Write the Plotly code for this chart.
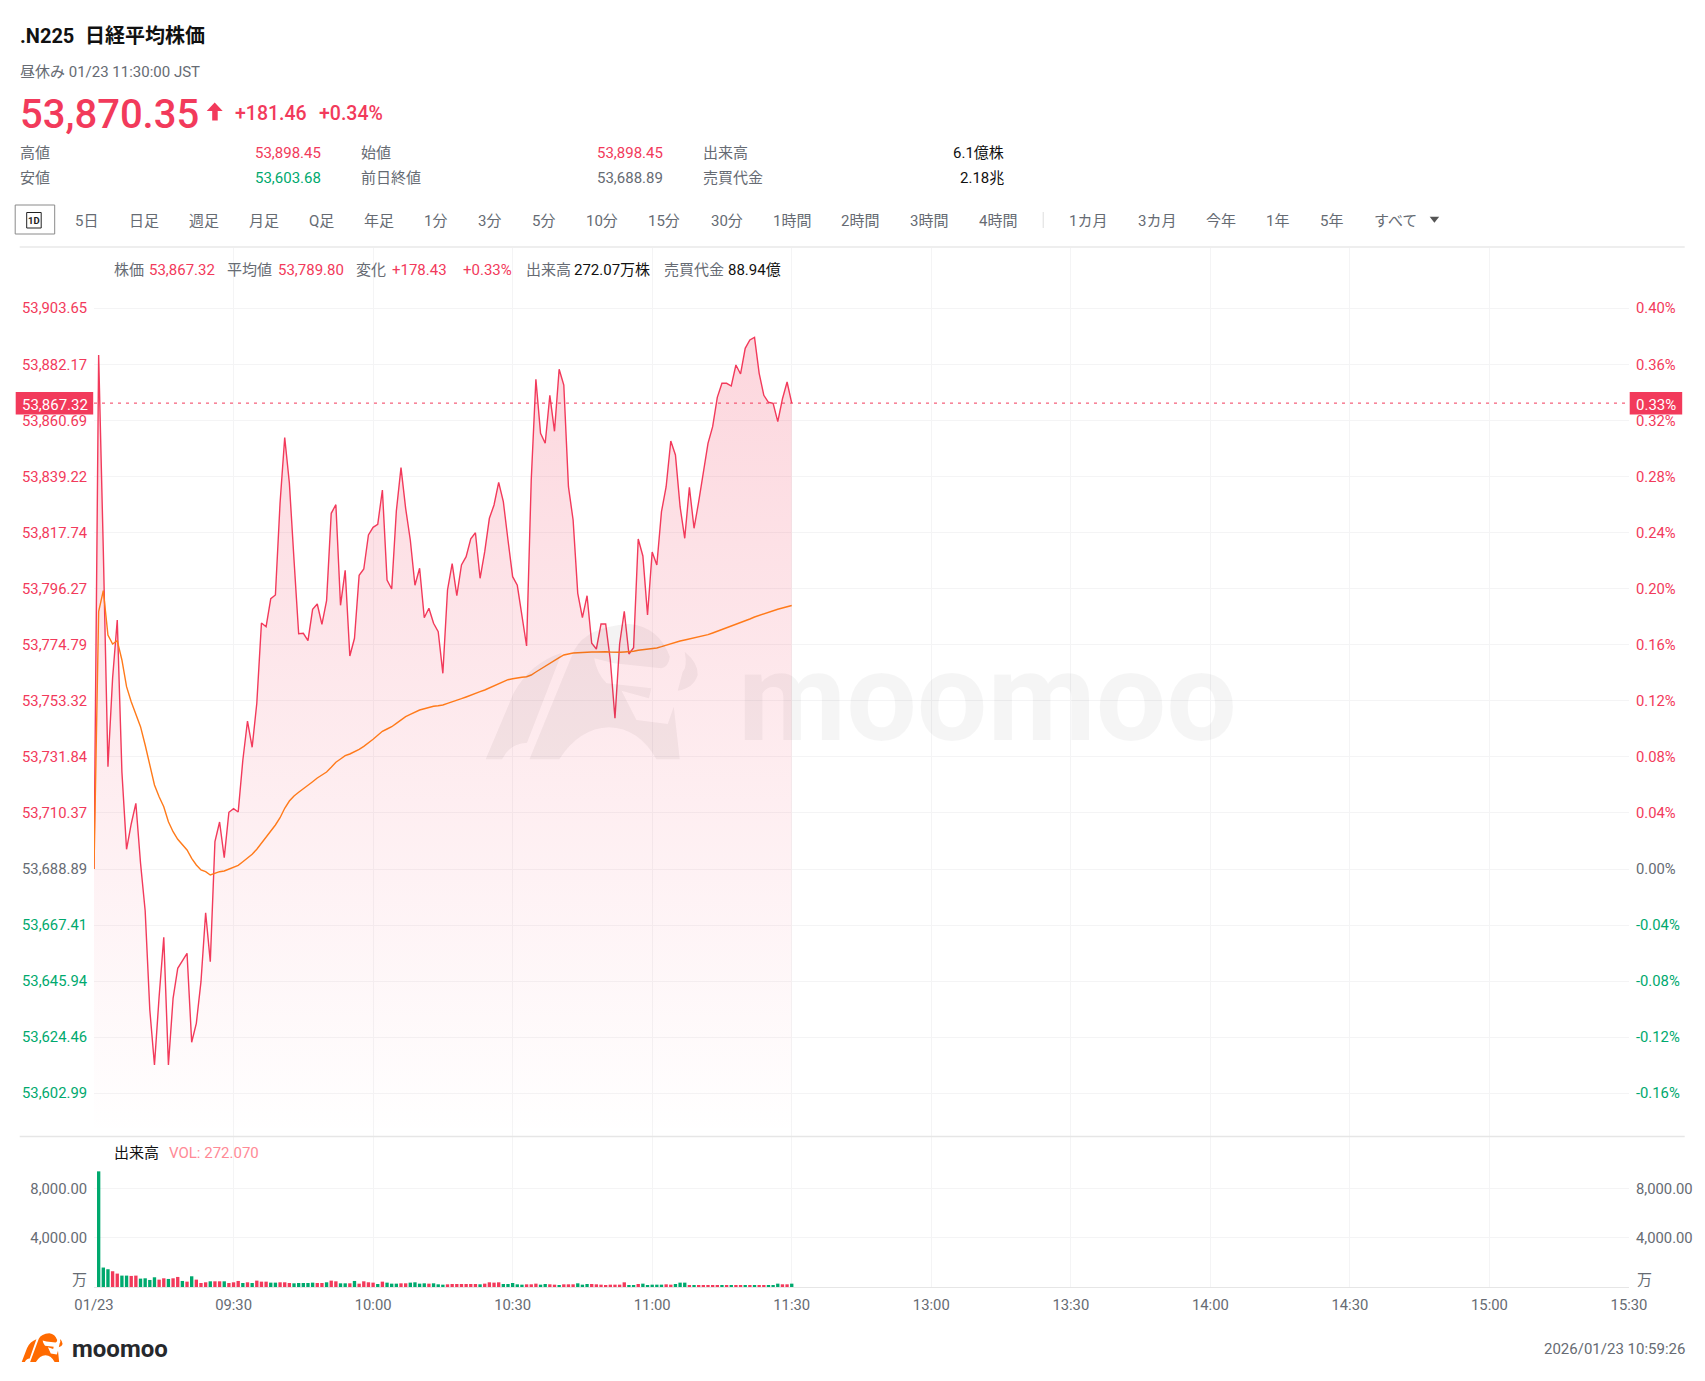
import plotly.graph_objects as go

# offset of the plot div inside the page (default body margin)
PAGE_OFFSET = 8
WIDTH = 1689
HEIGHT = 1365
PLOT_LEFT = 94.3
PLOT_RIGHT = 1629.3
PLOT_TOP = 248
PLOT_BOTTOM = 1287

RED = "#f23a5b"
GREEN = "#00a96e"
ORANGE = "#ff7a1a"
GREY = "#666b73"
FONT = "Roboto, 'Noto Sans CJK JP', sans-serif"

PREV_CLOSE = 53688.89

price_values = [
    53688.89, 53885.75, 53811.07, 53728.07, 53762.04, 53784.26, 53726.04, 53696.44, 53706.13, 53714.05,
    53691.19, 53672.92, 53634.89, 53613.82, 53639.98, 53662.73, 53613.82, 53639.37, 53650.86, 53653.77,
    53656.60, 53622.52, 53629.79, 53645.73, 53672.15, 53653.39, 53699.35, 53706.89, 53693.22, 53710.61,
    53711.98, 53710.72, 53730.64, 53745.57, 53735.50, 53752.35, 53783.11, 53781.69, 53792.41, 53793.83,
    53829.07, 53854.15, 53836.73, 53807.24, 53779.01, 53779.16, 53776.33, 53788.36, 53790.39, 53782.61,
    53791.65, 53825.12, 53828.42, 53789.89, 53803.29, 53770.47, 53777.25, 53801.38, 53803.79, 53816.81,
    53819.76, 53820.91, 53834.05, 53799.58, 53796.13, 53826.00, 53842.59, 53827.04, 53814.89, 53797.55,
    53804.06, 53785.14, 53788.74, 53782.99, 53779.78, 53763.84, 53795.75, 53805.82, 53793.56, 53805.32,
    53808.50, 53815.39, 53817.69, 53800.23, 53810.42, 53823.21, 53828.30, 53836.99, 53829.57, 53814.89,
    53800.84, 53797.55, 53785.52, 53774.30, 53837.88, 53876.45, 53855.76, 53851.93, 53870.32, 53856.53,
    53880.28, 53874.26, 53835.31, 53822.56, 53794.48, 53785.14, 53793.56, 53775.33, 53773.15, 53782.73,
    53782.73, 53768.94, 53746.61, 53775.07, 53787.59, 53771.24, 53773.65, 53815.28, 53808.77, 53786.17,
    53810.30, 53805.32, 53825.74, 53835.31, 53852.81, 53847.45, 53827.65, 53815.55, 53835.08, 53819.38,
    53829.57, 53840.44, 53851.93, 53858.29, 53869.55, 53874.91, 53874.91, 53873.88, 53881.92, 53878.48,
    53888.32, 53891.50, 53892.53, 53878.74, 53870.32, 53867.64, 53867.25, 53860.21, 53868.90, 53875.41,
    53867.32,
]

avg_values = [
    53688.89, 53787.44, 53795.48, 53778.51, 53775.07, 53776.33, 53768.94, 53758.71, 53752.97, 53748.52,
    53743.39, 53736.38, 53728.07, 53721.06, 53716.58, 53712.75, 53707.01, 53703.18, 53700.27, 53698.08,
    53696.17, 53692.99, 53690.42, 53688.51, 53687.86, 53686.59, 53687.24, 53687.86, 53688.12, 53688.89,
    53689.54, 53690.31, 53691.69, 53693.22, 53694.52, 53696.44, 53698.73, 53701.03, 53703.18, 53705.74,
    53708.54, 53712.14, 53714.93, 53716.85, 53718.27, 53719.53, 53720.79, 53722.33, 53723.74, 53724.89,
    53726.04, 53727.84, 53729.76, 53731.02, 53732.28, 53732.94, 53733.70, 53734.74, 53735.88, 53737.15,
    53738.57, 53740.10, 53741.63, 53742.51, 53743.39, 53744.69, 53746.07, 53747.22, 53748.14, 53749.02,
    53749.79, 53750.28, 53750.82, 53751.20, 53751.43, 53751.70, 53752.35, 53752.85, 53753.50, 53754.11,
    53754.77, 53755.53, 53756.30, 53756.80, 53757.45, 53758.21, 53759.09, 53760.01, 53760.78, 53761.39,
    53761.77, 53762.16, 53762.31, 53762.54, 53763.19, 53764.34, 53765.49, 53766.64, 53767.67, 53768.67,
    53769.82, 53770.85, 53771.35, 53771.62, 53771.73, 53771.89, 53772.00, 53772.00, 53772.00, 53772.12,
    53772.12, 53772.00, 53771.89, 53771.89, 53772.00, 53772.00, 53772.27, 53772.65, 53772.88, 53773.04,
    53773.26, 53773.53, 53774.03, 53774.57, 53775.18, 53775.83, 53776.21, 53776.60, 53776.98, 53777.36,
    53777.75, 53778.13, 53778.63, 53779.28, 53779.93, 53780.54, 53781.19, 53781.84, 53782.46, 53783.11,
    53783.87, 53784.64, 53785.41, 53786.06, 53786.67, 53787.21, 53787.82, 53788.36, 53788.85, 53789.35,
    53789.80,
]

# volume in 万株, one bar per minute starting at 09:01
vol_values = [
    9384, 1578, 1442, 1278, 1088, 925, 925, 898, 925, 680,
    707, 571, 789, 598, 707, 653, 707, 816, 490, 435,
    870, 598, 326, 381, 462, 462, 462, 462, 326, 381,
    490, 326, 381, 326, 517, 435, 435, 354, 354, 381,
    381, 326, 299, 326, 326, 326, 354, 326, 326, 381,
    517, 462, 299, 299, 299, 490, 272, 462, 381, 354,
    245, 435, 354, 272, 272, 299, 299, 354, 381, 272,
    299, 272, 299, 218, 190, 218, 245, 245, 245, 245,
    245, 245, 218, 272, 380, 354, 380, 245, 245, 326,
    218, 190, 218, 218, 272, 190, 245, 218, 190, 135,
    218, 218, 218, 299, 190, 245, 245, 218, 190, 135,
    190, 190, 190, 380, 108, 135, 245, 272, 163, 190,
    190, 190, 218, 190, 245, 354, 354, 135, 135, 135,
    135, 163, 163, 163, 135, 108, 135, 135, 135, 135,
    108, 135, 135, 135, 108, 135, 272, 218, 218, 272,
]
vol_sides = list(
    "GGGRRGGRRG" "GGGRRGRRGR" "GRRRGRRGRR" "RGRGRRRGGR" "RRGGGGGRRG"
    "RRGGRGRRRR" "GRGGGRRGGG" "GRGGGRRRRR" "RRGRRRRGGG" "GGRRRGGRRG"
    "RRRGGGRRRR" "RRRRGGRGGG" "GGRRGGGRGR" "RRRRGRGRRG" "RGRRGGGRRG"
)

price_ticks = [53903.65, 53882.17, 53860.69, 53839.22, 53817.74, 53796.27, 53774.79, 53753.32,
               53731.84, 53710.37, 53688.89, 53667.41, 53645.94, 53624.46, 53602.99]
pct_ticks = [0.40, 0.36, 0.32, 0.28, 0.24, 0.20, 0.16, 0.12, 0.08, 0.04, 0.00, -0.04, -0.08, -0.12, -0.16]
vol_ticks = [4000, 8000]
time_labels = ["01/23", "09:30", "10:00", "10:30", "11:00", "11:30",
               "13:00", "13:30", "14:00", "14:30", "15:00", "15:30"]
time_ticks = [0, 30, 60, 90, 120, 150, 180, 210, 240, 270, 300, 330]

tab_labels = ["5日", "日足", "週足", "月足", "Q足", "年足", "1分", "3分", "5分", "10分", "15分", "30分",
              "1時間", "2時間", "3時間", "4時間", "1カ月", "3カ月", "今年", "1年", "5年", "すべて"]
tab_centers = [87, 144, 204, 264, 321.5, 379, 436, 490, 544, 602, 664, 727,
               792, 860.5, 929.5, 998, 1088.5, 1157.5, 1221.5, 1278, 1332, 1396]

minutes = list(range(len(price_values)))
vol_minutes = minutes[1:]
pct_values = [(p / PREV_CLOSE - 1) * 100 for p in price_values]
last_price = price_values[-1]


# page pixels to paper fractions (paper is the plot area, not the whole figure)
def px(x):
    return (x - PLOT_LEFT) / (PLOT_RIGHT - PLOT_LEFT)


def py(y):
    return (PLOT_BOTTOM - y) / (PLOT_BOTTOM - PLOT_TOP)


def tick_color(v):
    if v > 0:
        return RED
    if v < 0:
        return GREEN
    return GREY


annotations = []
shapes = []


def label(x, y, text, color=GREY, size=15, anchor="left", weight=None):
    nudge = {"left": -1, "right": 1, "center": 0}[anchor]
    annotations.append(dict(
        x=px(x + nudge), y=py(y), xref="paper", yref="paper", text=text, showarrow=False,
        xanchor=anchor, yanchor="middle", borderpad=0,
        font=dict(family=FONT, size=size, color=color, weight=weight),
    ))


def box(x0, y0, x1, y1, fill="rgba(0,0,0,0)", line=None, width=1):
    shapes.append(dict(
        type="rect", xref="paper", yref="paper", x0=px(x0), x1=px(x1), y0=py(y0), y1=py(y1),
        fillcolor=fill, line=dict(color=line, width=width if line else 0),
    ))


def hline(x0, x1, y, color="#e6e6e6", width=1):
    shapes.append(dict(type="line", xref="paper", yref="paper", x0=px(x0), x1=px(x1),
                       y0=py(y), y1=py(y), line=dict(color=color, width=width)))


def polygon(points, fill):
    # points are page pixels; Q segments are given as 4 numbers
    parts = []
    for i, p in enumerate(points):
        if len(p) == 2:
            parts.append(f"{'M' if i == 0 else 'L'}{px(p[0]):.5f},{py(p[1]):.5f}")
        else:
            parts.append(f"Q{px(p[0]):.5f},{py(p[1]):.5f} {px(p[2]):.5f},{py(p[3]):.5f}")
    shapes.append(dict(type="path", xref="paper", yref="paper", path=" ".join(parts) + " Z",
                       fillcolor=fill, line=dict(width=0)))


LOGO_PARTS = [
    [(12, 478), (68, 280), (100, 190, 165, 158), (95, 428), (60, 430, 45, 478)],
    [(100, 478), (190, 150), (215, 80, 300, 72), (360, 80, 382, 170), (380, 200, 365, 205), (270, 190), (230, 175),
     (235, 220, 255, 250), (345, 265), (340, 295), (285, 272), (315, 360), (378, 372), (390, 320), (402, 478),
     (355, 478), (320, 385, 260, 382), (200, 385, 160, 478)],
    [(412, 155), (440, 190, 438, 225), (430, 265, 398, 272), (408, 215), (418, 200, 412, 155)],
]


def bull(x0, y0, sx, sy, fill):
    for part in LOGO_PARTS:
        pts = []
        for p in part:
            pts.append(tuple((x0 + (p[k] - 12) / 2.01 * sx) if k % 2 == 0 else (y0 + (p[k] - 70) / 3 * sy)
                             for k in range(len(p))))
        polygon(pts, fill)


# header
label(20, 36, "<b>.N225</b>", "#111", 20)
label(85.5, 36, "<b>日経平均株価</b>", "#111", 20)
label(20, 71.5, "昼休み 01/23 11:30:00 JST")
label(20, 114.5, "53,870.35", RED, 40, weight=500)
polygon([(215, 102.5), (223, 111), (218, 111), (218, 120.5), (212.5, 120.5), (212.5, 111), (207, 111)], RED)
label(235, 113.5, "+181.46", RED, 19.5, weight=500)
label(319, 113.5, "+0.34%", RED, 19.5, weight=500)

label(20, 152.5, "高値")
label(321.5, 152.5, "53,898.45", RED, anchor="right")
label(361.5, 152.5, "始値")
label(663, 152.5, "53,898.45", RED, anchor="right")
label(703, 152.5, "出来高")
label(1004.5, 152.5, "6.1億株", "#111", anchor="right")
label(20, 177.5, "安値")
label(321.5, 177.5, "53,603.68", GREEN, anchor="right")
label(361.5, 177.5, "前日終値")
label(663, 177.5, "53,688.89", anchor="right")
label(703, 177.5, "売買代金")
label(1004.5, 177.5, "2.18兆", "#111", anchor="right")

# period tabs
box(15.5, 205, 55, 234, line="#8a8a8a")
box(27, 212.5, 41.5, 228, line="#222")
label(34.3, 220.3, "<b>1D</b>", "#222", 9.5, anchor="center")
for text, center in zip(tab_labels, tab_centers):
    label(center, 220.5, text, GREY, 15, anchor="center")
shapes.append(dict(type="line", xref="paper", yref="paper", x0=px(1043.5), x1=px(1043.5), y0=py(212), y1=py(228),
                   line=dict(color="#dddddd", width=1)))
polygon([(1430, 216.8), (1439.5, 216.8), (1434.7, 222.8)], "#555")
hline(20, 1685, 247, "#eeeeee", 2)

# legend row above the chart
label(114, 270, "株価")
label(149.5, 270, "53,867.32", RED)
label(227.5, 270, "平均値")
label(278.5, 270, "53,789.80", RED)
label(356, 270, "変化")
label(392, 270, "+178.43", RED)
label(463.5, 270, "+0.33%", RED)
label(526, 270, "出来高")
label(574.5, 270, "272.07万株", "#111")
label(664.5, 270, "売買代金")
label(728.5, 270, "88.94億", "#111")

# watermark
bull(486, 623.3, 1, 1, "rgba(60,30,40,0.055)")
label(988, 697, "<b>moomoo</b>", "rgba(0,0,0,0.04)", 125, anchor="center")

# pane separator and last price line
hline(20, 1685, 1136.5, "#e6e6e6", 1.5)
shapes.append(dict(type="line", xref="x", yref="y", x0=time_ticks[0], x1=time_ticks[-1], y0=last_price, y1=last_price,
                   line=dict(color=RED, width=1, dash="3px,5px")))
box(16, 392, 93.5, 414.5, fill=RED)
box(1630, 392, 1682.5, 414.5, fill=RED)
label(22.5, 405, "53,867.32", "#ffffff")
label(1636.5, 405, "0.33%", "#ffffff")

# volume pane texts
label(114.5, 1152.5, "出来高", "#111")
label(169, 1152.5, "VOL: 272.070", "#ff8a96")
label(87, 1280, "万", anchor="right")
label(1637, 1280, "万")

# footer
bull(22, 1333, 0.193, 0.213, "#ff6a00")
label(72, 1349, "<b>moomoo</b>", "#26282c", 24)
label(1685, 1349, "2026/01/23 10:59:26", anchor="right")

price_lo, price_hi = 53586.63, 53926.73
vol_hi = 12252

fig = go.Figure()
fig.add_trace(go.Scatter(
    x=minutes, y=price_values, mode="lines", name="株価",
    line=dict(color=RED, width=1.4), fill="tozeroy",
    fillgradient=dict(type="vertical", start=53900, stop=price_lo,
                      colorscale=[[0, "rgba(242,58,91,0.21)"], [1, "rgba(242,58,91,0)"]]),
))
fig.add_trace(go.Scatter(x=minutes, y=avg_values, mode="lines", name="平均値",
                         line=dict(color=ORANGE, width=1.4)))
fig.add_trace(go.Scatter(x=minutes, y=pct_values, mode="lines", yaxis="y2", showlegend=False,
                         line=dict(width=0), opacity=0))
fig.add_trace(go.Bar(x=vol_minutes, y=vol_values, xaxis="x2", yaxis="y3", width=0.72,
                     marker=dict(color=[GREEN if s == "G" else RED for s in vol_sides], line=dict(width=0))))
fig.add_trace(go.Scatter(x=vol_minutes, y=vol_values, mode="lines", xaxis="x2", yaxis="y4", showlegend=False,
                         line=dict(width=0), opacity=0))

tick_font = dict(family=FONT, size=14.8, color=GREY)
grid = "#f4f4f5"
pane_split = 151 / 1039

fig.update_layout(
    width=WIDTH, height=HEIGHT, showlegend=False, hovermode=False,
    plot_bgcolor="white", paper_bgcolor="white",
    margin=dict(l=PLOT_LEFT - PAGE_OFFSET, r=WIDTH + PAGE_OFFSET - PLOT_RIGHT, t=PLOT_TOP - PAGE_OFFSET,
                b=HEIGHT + PAGE_OFFSET - PLOT_BOTTOM, autoexpand=False),
    font=dict(family=FONT),
    annotations=annotations, shapes=shapes,
    xaxis=dict(domain=[0, 1], anchor="y", range=[time_ticks[0], time_ticks[-1]], tickvals=time_ticks,
               showticklabels=False, gridcolor=grid, zeroline=False),
    xaxis2=dict(domain=[0, 1], anchor="y3", range=[time_ticks[0], time_ticks[-1]], tickvals=time_ticks,
                ticktext=time_labels, tickfont=tick_font, gridcolor=grid, zeroline=False, showline=True,
                linecolor="#e6e6e6", ticks="outside", ticklen=4, tickcolor="rgba(0,0,0,0)"),
    yaxis=dict(domain=[pane_split, 1], range=[price_lo, price_hi], tickvals=price_ticks,
               ticktext=[f'<span style="color:{tick_color(v - PREV_CLOSE)}">{v:,.2f}</span>' for v in price_ticks],
               tickfont=tick_font, gridcolor=grid, zeroline=False, ticks="outside", ticklen=3,
               tickcolor="rgba(0,0,0,0)"),
    yaxis2=dict(overlaying="y", side="right", anchor="x",
                range=[(price_lo / PREV_CLOSE - 1) * 100, (price_hi / PREV_CLOSE - 1) * 100], tickvals=pct_ticks,
                ticktext=[f'<span style="color:{tick_color(v)}">{v:.2f}%</span>' for v in pct_ticks],
                tickfont=tick_font, showgrid=False, zeroline=False, ticks="outside", ticklen=3,
                tickcolor="rgba(0,0,0,0)"),
    yaxis3=dict(domain=[0, pane_split], anchor="x2", range=[0, vol_hi], tickvals=vol_ticks, tickformat=",.2f",
                tickfont=tick_font, gridcolor=grid, zeroline=False, ticks="outside", ticklen=3,
                tickcolor="rgba(0,0,0,0)"),
    yaxis4=dict(overlaying="y3", side="right", anchor="x2", range=[0, vol_hi], tickvals=vol_ticks, tickformat=",.2f",
                tickfont=tick_font, showgrid=False, zeroline=False, ticks="outside", ticklen=3,
                tickcolor="rgba(0,0,0,0)"),
)

fig.write_html("out.html", config={"displayModeBar": False})
